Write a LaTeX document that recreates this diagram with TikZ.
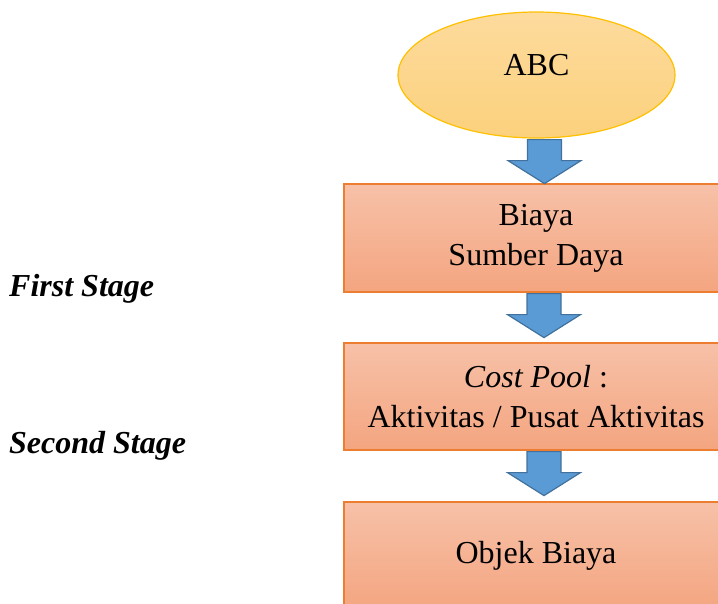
\documentclass[tikz,border=0pt]{standalone}
\usepackage{fontspec}
\setmainfont{Liberation Serif}
\usetikzlibrary{shapes.geometric,calc}
\definecolor{elltop}{HTML}{FDDB9D}
\definecolor{ellbot}{HTML}{FCD17D}
\definecolor{ellline}{HTML}{FFC000}
\definecolor{boxtop}{HTML}{F7C1A8}
\definecolor{boxbot}{HTML}{F4A580}
\definecolor{boxline}{HTML}{ED7D31}
\definecolor{arrfill}{HTML}{5B9BD5}
\definecolor{arrline}{HTML}{41719C}
\tikzset{
  x=1pt, y=-1pt,
  txt/.style={font=\fontsize{32}{40}\selectfont},
  ellbox/.style={ellipse, draw=ellline, line width=1.2pt, top color=elltop, bottom color=ellbot,
    minimum width=277pt, minimum height=126pt, inner sep=0pt},
  stagebox/.style={rectangle, draw=boxline, line width=1.2pt, top color=boxtop, bottom color=boxbot,
    minimum width=384pt, inner sep=0pt, align=center, txt},
  barrow/.style={draw=arrline, line width=1.2pt, fill=arrfill, line join=miter},
  stagelbl/.style={anchor=base west, font=\fontsize{32}{40}\selectfont\bfseries\itshape, inner sep=0pt}
}
\newcommand\blockarrow[1]{%
  \draw[barrow] ($(#1)+(-9,1)$) -- ++(34,0) -- ++(0,21) -- ++(19.5,0) -- ++(-36.5,23)
    -- ++(-36.5,-23) -- ++(19.5,0) -- cycle;}
\begin{document}
\begin{tikzpicture}
\useasboundingbox (0,0) rectangle (718,603);
\clip (0,0) rectangle (718,603);
\node[ellbox] (abc) at (536.5,75) {};
\node[txt, inner sep=0pt] (abct) at ([yshift=9.5pt]abc.center) {ABC};
\node[stagebox, minimum height=108pt] (b1) at (536,238) {Biaya\\Sumber Daya};
\node[stagebox, minimum height=107pt] (b2) at (536,396.5) {\textit{Cost Pool} :\\Aktivitas / Pusat Aktivitas};
\node[stagebox, minimum height=108pt] (b3) at (536,556) {Objek Biaya};
\blockarrow{abc.south}
\blockarrow{b1.south}
\blockarrow{b2.south}
\node[stagelbl] (s1) at (9,296) {First Stage};
\node[stagelbl] (s2) at (9,453) {Second Stage};
\end{tikzpicture}
\end{document}
